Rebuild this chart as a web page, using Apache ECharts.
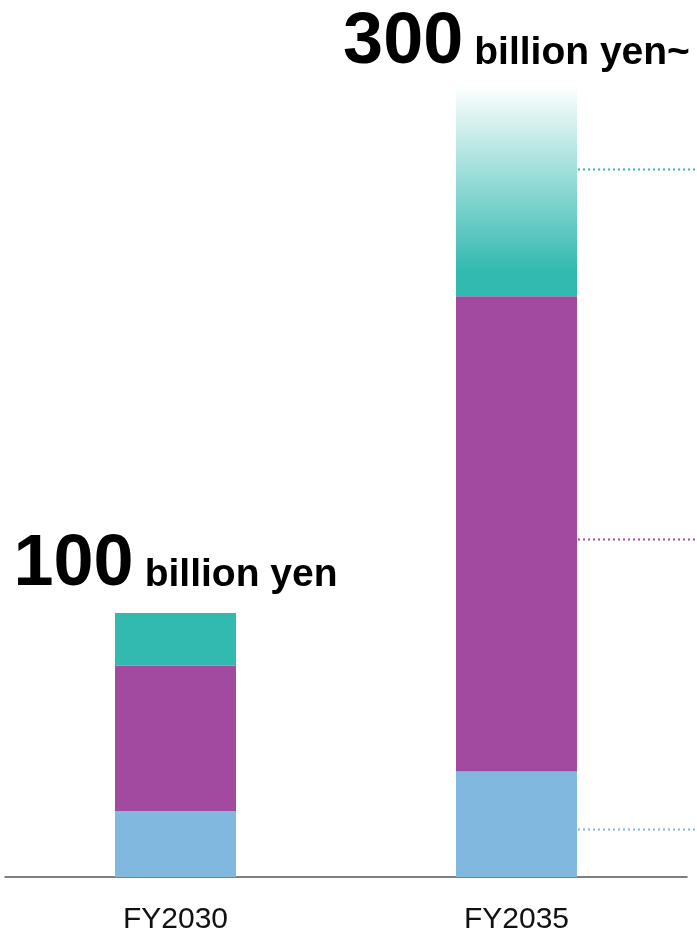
<!DOCTYPE html>
<html>
<head>
<meta charset="utf-8">
<script src="https://cdn.jsdelivr.net/npm/echarts@6/dist/echarts.min.js"></script>
<style>
html,body{margin:0;padding:0;background:#fff;}
#c{width:697px;height:932px;}
</style>
</head>
<body>
<div id="c"></div>
<script>
// ---- data ----
const categories = ['FY2030', 'FY2035'];
const blueValues = [25, 40];
const purpleValues = [55, 180];
const tealValues = [20, 80];
const totalLabels = ['100', '300'];
const unitLabels = ['billion yen', 'billion yen~'];
// leader lines (y values) on the right of FY2035 bar
const leaderValues = [18, 128, 268];
const leaderColors = ['#80b8e0', '#a24a9f', '#32b9b0'];

const TEAL = '#32b9b0', PURPLE = '#a24a9f', BLUE = '#80b8e0';
const BAR_W = 121;
const FONT = '"Liberation Sans", Arial, Helvetica, sans-serif';
const LABEL_DIST = [12, 6];

const chart = echarts.init(document.getElementById('c'), null, {renderer: 'canvas'});

const tealData = tealValues.map((v, i) => {
  const item = {value: v, label: {distance: LABEL_DIST[i]}};
  if (i === 1) {
    item.itemStyle = {
      color: new echarts.graphic.LinearGradient(0, 0, 0, 1, [
        {offset: 0, color: '#ffffff'},
        {offset: 0.88, color: TEAL},
        {offset: 1, color: TEAL}
      ])
    };
  }
  return item;
});

const option = {
  backgroundColor: '#ffffff',
  animation: false,
  textStyle: {fontFamily: FONT},
  grid: {left: 5, right: 10, top: 85, bottom: 55, containLabel: false, outerBoundsMode: 'none'},
  xAxis: {
    type: 'category',
    data: categories,
    axisLine: {show: true, lineStyle: {color: '#555', width: 1.5}},
    axisTick: {show: false},
    axisLabel: {
      color: '#111', fontSize: 30, fontFamily: FONT, margin: 28
    }
  },
  yAxis: {
    type: 'value', min: 0, max: 300,
    show: false,
    splitLine: {show: false}
  },
  series: [
    {name: 'blue', type: 'bar', stack: 's', barWidth: BAR_W, data: blueValues,
     itemStyle: {color: BLUE}},
    {name: 'purple', type: 'bar', stack: 's', barWidth: BAR_W, data: purpleValues,
     itemStyle: {color: PURPLE}},
    {name: 'teal', type: 'bar', stack: 's', barWidth: BAR_W, data: tealData,
     itemStyle: {color: TEAL},
     label: {
       show: true, position: 'top', distance: 10,
       formatter: p => '{big|' + totalLabels[p.dataIndex] + '}{sp| }{small|' + unitLabels[p.dataIndex] + '}',
       rich: {
         big: {fontSize: 72, fontWeight: 'bold', color: '#000', fontFamily: FONT, lineHeight: 72, verticalAlign: 'bottom'},
         sp: {fontSize: 14, lineHeight: 72, verticalAlign: 'bottom', width: 11},
         small: {fontSize: 39, fontWeight: 'bold', color: '#000', fontFamily: FONT, lineHeight: 72, verticalAlign: 'bottom', padding: [0, 0, 6, 0]}
       }
     }}
  ]
};
chart.setOption(option);

const xr = chart.convertToPixel({xAxisIndex: 0}, categories[1]) + BAR_W / 2 + 1;
const graphics = leaderValues.map((v, i) => {
  const y = Math.round(chart.convertToPixel({yAxisIndex: 0}, v)) + 0.5;
  return {
    type: 'line',
    shape: {x1: xr, y1: y, x2: 697, y2: y},
    style: {stroke: leaderColors[i], lineWidth: 2, lineDash: [2, 3]},
    silent: true
  };
});
chart.setOption({graphic: graphics});
</script>
</body>
</html>
